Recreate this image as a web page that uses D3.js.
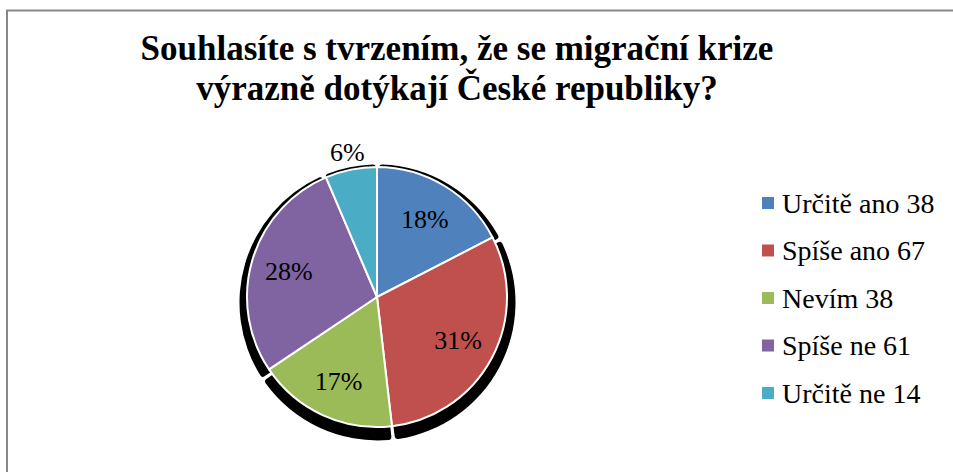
<!DOCTYPE html>
<html>
<head>
<meta charset="utf-8">
<script src="https://cdn.jsdelivr.net/npm/d3@7"></script>
<style>
html,body{margin:0;padding:0;background:#fff;}
svg{display:block;}
svg text{font-family:"Liberation Serif","Times New Roman",Tinos,"DejaVu Serif",serif;}
</style>
</head>
<body>
<svg id="chart" width="953" height="472"></svg>
<script>
const categories = ["Určitě ano", "Spíše ano", "Nevím", "Spíše ne", "Určitě ne"];
const values = [38, 67, 38, 61, 14];
const percentLabels = ["18%", "31%", "17%", "28%", "6%"];
const colors = ["#4f81bd", "#c0504d", "#9bbb59", "#8064a2", "#4bacc6"];
const titleLines = ["Souhlasíte s tvrzením, že se migrační krize", "výrazně dotýkají České republiky?"];

const svg = d3.select("#chart");

// chart border
svg.append("path")
  .attr("d", "M7,472 L7,10.5 L953,10.5")
  .attr("fill", "none").attr("stroke", "#888").attr("stroke-width", 2);

// title
svg.append("text")
  .attr("x", 457).attr("y", 60)
  .attr("text-anchor", "middle")
  .style("font-weight", "bold").style("font-size", "35px")
  .selectAll("tspan").data(titleLines).join("tspan")
  .attr("x", 457).attr("dy", (d, i) => i === 0 ? 0 : 40)
  .text(d => d);

const cx = 377, cy = 297, r = 130;
const pie = d3.pie().sort(null).value(d => d)(values);

// shadow
const shadowArc = d3.arc().innerRadius(0).outerRadius(r + 8).padAngle(0.025).cornerRadius(3);
svg.append("g").attr("transform", `translate(${cx + 0.5},${cy + 5.5})`)
  .selectAll("path").data(pie).join("path")
  .attr("d", shadowArc).attr("fill", "#000");

// slices
const arc = d3.arc().innerRadius(0).outerRadius(r);
const g = svg.append("g").attr("transform", `translate(${cx},${cy})`);
g.selectAll("path.slice").data(pie).join("path")
  .attr("class", "slice")
  .attr("d", arc)
  .attr("fill", (d, i) => colors[i])
  .attr("stroke", "#fff").attr("stroke-width", 2).attr("stroke-linejoin", "round");

// labels
const inArc = d3.arc().innerRadius(92).outerRadius(92);
const outArc = d3.arc().innerRadius(148).outerRadius(148);
const total = d3.sum(values);
g.selectAll("text.lbl").data(pie).join("text")
  .attr("class", "lbl")
  .attr("transform", d => {
    const c = (d.value / total < 0.1 ? outArc : inArc).centroid(d);
    return `translate(${c[0]},${c[1]})`;
  })
  .attr("text-anchor", "middle").attr("dy", "0.35em")
  .style("font-size", "26px")
  .text((d, i) => percentLabels[i]);

// legend
const legend = svg.append("g").attr("transform", "translate(762,203)");
const rows = legend.selectAll("g").data(categories).join("g")
  .attr("transform", (d, i) => `translate(0,${i * 47.5})`);
rows.append("rect").attr("x", 0).attr("y", -6).attr("width", 12).attr("height", 12)
  .attr("fill", (d, i) => colors[i]);
rows.append("text").attr("x", 20).attr("y", 0).attr("dy", "0.35em")
  .style("font-size", "28px")
  .text((d, i) => `${d} ${values[i]}`);
</script>
</body>
</html>
